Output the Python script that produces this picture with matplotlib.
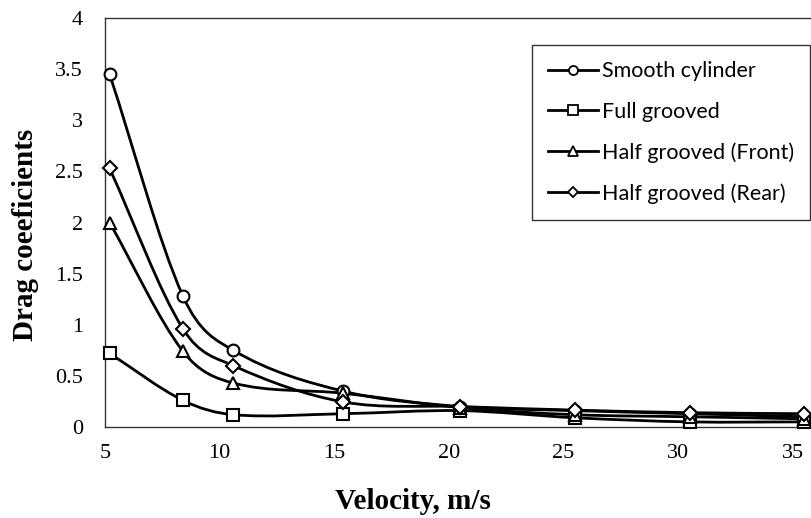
import numpy as np
import matplotlib
matplotlib.use("Agg")
import matplotlib.pyplot as plt
from matplotlib.path import Path
from matplotlib.patches import PathPatch

# velocity (m/s)
velocity = [5.2, 8.4, 10.6, 15.4, 20.5, 25.5, 30.5, 35.5]

# drag coefficients
smooth_cyl = [3.45, 1.28, 0.75, 0.35, 0.20, 0.16, 0.13, 0.10]
full_groove = [0.72, 0.26, 0.12, 0.13, 0.16, 0.09, 0.05, 0.05]
half_front = [2.00, 0.74, 0.43, 0.33, 0.19, 0.12, 0.10, 0.08]
half_rear = [2.53, 0.96, 0.60, 0.245, 0.20, 0.165, 0.14, 0.13]

series = [("Smooth cylinder", smooth_cyl, "o"),
          ("Full grooved", full_groove, "s"),
          ("Half grooved (Front)", half_front, "^"),
          ("Half grooved (Rear)", half_rear, "D")]


def smooth_path(x, y):
    # smoothed line like Excel: cubic hermite segments through the points
    x = np.asarray(x, float)
    y = np.asarray(y, float)
    n = len(x)
    m = np.zeros(n)
    for i in range(n):
        a = max(i - 1, 0)
        b = min(i + 1, n - 1)
        m[i] = (y[b] - y[a]) / (x[b] - x[a])
    verts = [(x[0], y[0])]
    codes = [Path.MOVETO]
    for i in range(n - 1):
        h = (x[i + 1] - x[i]) / 3.0
        verts += [(x[i] + h, y[i] + m[i] * h),
                  (x[i + 1] - h, y[i + 1] - m[i + 1] * h),
                  (x[i + 1], y[i + 1])]
        codes += [Path.CURVE4] * 3
    return Path(verts, codes)


fig = plt.figure(figsize=(8.11, 5.18), dpi=100)
ax = fig.add_axes([0.1295, 0.1757, 0.8705, 0.7893])

for name, vals, mk in series:
    ax.add_patch(PathPatch(smooth_path(velocity, vals), facecolor="none",
                           edgecolor="black", lw=2.0, zorder=2))
    ms = 8.5 if mk != "D" else 7.5
    ax.plot(velocity, vals, linestyle="none",
            marker=mk, markersize=ms, markerfacecolor="white",
            markeredgecolor="black", markeredgewidth=1.5,
            zorder=3, clip_on=False)

# legend handles with line + marker
handles = [plt.Line2D([], [], color="black", lw=2.0, marker=mk,
                      markersize=(6.5 if mk != "D" else 5.5), markerfacecolor="white",
                      markeredgecolor="black", markeredgewidth=1.3)
           for _, _, mk in series]
labels = [s[0] for s in series]

ax.set_xlim(5, 35.8)
ax.set_ylim(0, 4)
ax.set_xticks([5, 10, 15, 20, 25, 30, 35])
ax.set_yticks([0, 0.5, 1, 1.5, 2, 2.5, 3, 3.5, 4])
ax.set_yticklabels(["0", "0.5", "1", "1.5", "2", "2.5", "3", "3.5", "4"])
ax.tick_params(length=0, labelsize=16)
ax.tick_params(axis="y", pad=16)
ax.tick_params(axis="x", pad=12)
for lab in ax.get_xticklabels() + ax.get_yticklabels():
    lab.set_fontfamily("Liberation Serif")
ax.spines["right"].set_visible(False)
for s in ["left", "bottom", "top"]:
    ax.spines[s].set_linewidth(1.0)
    ax.spines[s].set_color("#333333")

ax.set_xlabel("Velocity, m/s", fontfamily="Liberation Serif", fontweight="bold",
              fontsize=21)
ax.set_ylabel("Drag coeeficients", fontfamily="Liberation Serif", fontweight="bold",
              fontsize=21)
ax.xaxis.set_label_coords(0.436, -0.183)
ax.xaxis.label.set_va("center")
ax.yaxis.set_label_coords(-0.113, 0.469)
ax.yaxis.label.set_va("center")

leg = fig.legend(handles, labels, loc="upper left", bbox_to_anchor=(532 / 811, 1 - 45 / 518),
                 prop={"family": "Lato", "size": 15.5}, frameon=True, fancybox=False,
                 edgecolor="black", handlelength=2.3, labelspacing=0.95,
                 borderpad=0.75, handletextpad=0.2, borderaxespad=0)
leg.get_frame().set_linewidth(1.0)

fig.savefig("out.png", dpi=100)
